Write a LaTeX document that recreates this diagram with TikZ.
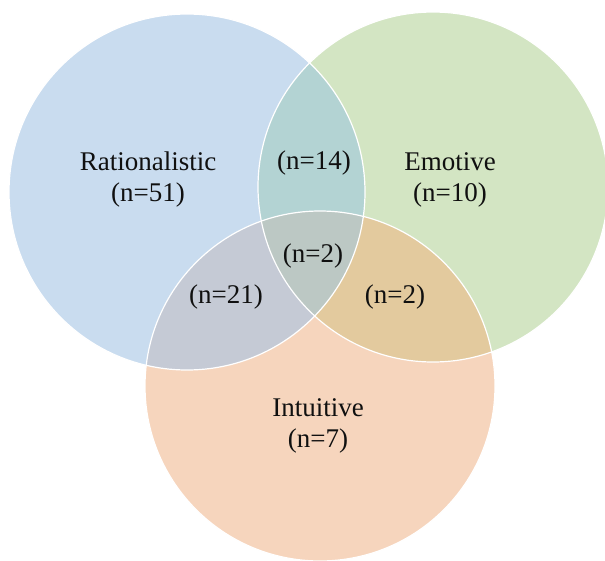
\documentclass[tikz,border=0pt]{standalone}
\usepackage{fontspec}
\setmainfont{Liberation Serif}
\definecolor{cblue}{HTML}{C9DCEF}
\definecolor{cgreen}{HTML}{D3E5C3}
\definecolor{corange}{HTML}{F6D5BD}
\definecolor{cteal}{HTML}{B3D3D3}
\definecolor{cbo}{HTML}{C5CAD5}
\definecolor{cgo}{HTML}{E3CA9E}
\definecolor{ccenter}{HTML}{BCC8C4}
\definecolor{ctext}{HTML}{101010}
\begin{document}
\begin{tikzpicture}[x=1pt,y=-1pt,
  lbl/.style={text=ctext,align=center,inner sep=0pt,font=\fontsize{27}{31}\selectfont},
  rim/.style={draw=white,line width=1.2pt}]
\useasboundingbox (0,0) rectangle (605,560);
\def\B{(187,192) circle (178)}
\def\G{(433,187) circle (175)}
\def\O{(320,386) circle (175)}
\fill[cblue] \B;
\fill[cgreen] \G;
\fill[corange] \O;
\begin{scope}
  \clip \B;
  \fill[cteal] \G;
  \fill[cbo] \O;
  \clip \G;
  \fill[ccenter] \O;
\end{scope}
\begin{scope}[even odd rule]
  \clip (0,0) rectangle (605,560) \B;
  \clip \G;
  \fill[cgo] \O;
\end{scope}
\draw[rim] \B;
\draw[rim] \G;
\draw[rim] \O;
\node[lbl] (rat) at (148,180) {Rationalistic\\(n=51)};
\node[lbl] (emo) at (450,180) {Emotive\\(n=10)};
\node[lbl] (int) at (318,426) {Intuitive\\(n=7)};
\node[lbl] (re) at (314,163) {(n=14)};
\node[lbl] (all) at (313,256) {(n=2)};
\node[lbl] (ri) at (226,297) {(n=21)};
\node[lbl] (ei) at (395,297) {(n=2)};
\end{tikzpicture}
\end{document}
